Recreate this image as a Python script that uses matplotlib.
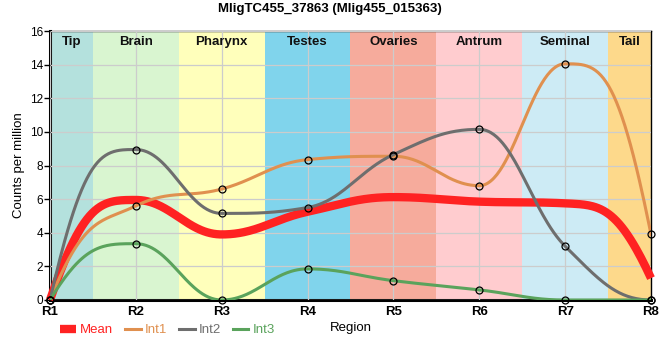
import numpy as np
import matplotlib
matplotlib.use('Agg')
import matplotlib.pyplot as plt

plt.rcParams['font.family'] = ['Liberation Sans', 'DejaVu Sans']

# data
regions = ['R1', 'R2', 'R3', 'R4', 'R5', 'R6', 'R7', 'R8']
int1 = [0, 5.6, 6.6, 8.35, 8.55, 6.8, 14.05, 3.9]
int2 = [0, 8.95, 5.15, 5.5, 8.65, 10.15, 3.2, 0]
int3 = [0, 3.35, 0, 1.85, 1.15, 0.6, 0, 0]
mean = [0, 5.95, 3.9, 5.25, 6.12, 5.85, 5.75, 1.3]

tissues = ['Tip', 'Brain', 'Pharynx', 'Testes', 'Ovaries', 'Antrum', 'Seminal', 'Tail']
tissue_spans = [(0, 0.5), (0.5, 1.5), (1.5, 2.5), (2.5, 3.5), (3.5, 4.5),
                (4.5, 5.5), (5.5, 6.5), (6.5, 7)]
tissue_colors = ['#b4e1dd', '#d9f5d0', '#ffffbb', '#80d4ec', '#f6ab9c',
                 '#ffcccf', '#cdebf5', '#fdd98b']


def end_weight(d0, d1):
    # how hard the curve leaves / enters an end point
    if d0 == 0:
        return 0.0
    return float(np.clip(0.5 * (2 * d0 - d1) / d0, 0, 1))


def spline(xs, ys, n=60):
    """bezier spline, control points like a highcharts 'spline' series"""
    xs = np.asarray(xs, float)
    ys = np.asarray(ys, float)
    k = len(xs)
    lx, ly = xs.copy(), ys.copy()
    rx, ry = xs.copy(), ys.copy()
    sm = 1.5
    d = sm + 1
    for i in range(1, k - 1):
        px, py = xs[i], ys[i]
        lax, lay = xs[i - 1], ys[i - 1]
        nx, ny = xs[i + 1], ys[i + 1]
        lcx = (sm * px + lax) / d
        lcy = (sm * py + lay) / d
        rcx = (sm * px + nx) / d
        rcy = (sm * py + ny) / d
        corr = (rcy - lcy) * (rcx - px) / (rcx - lcx) + py - rcy
        lcy += corr
        rcy += corr
        if lcy > lay and lcy > py:
            lcy = max(lay, py)
            rcy = 2 * py - lcy
        elif lcy < lay and lcy < py:
            lcy = min(lay, py)
            rcy = 2 * py - lcy
        if rcy > ny and rcy > py:
            rcy = max(ny, py)
            lcy = 2 * py - rcy
        elif rcy < ny and rcy < py:
            rcy = min(ny, py)
            lcy = 2 * py - rcy
        lx[i], ly[i], rx[i], ry[i] = lcx, lcy, rcx, rcy
    # end points
    d0, d1 = ys[1] - ys[0], ys[2] - ys[1]
    rx[0] = xs[0] + (xs[1] - xs[0]) / d
    ry[0] = ys[0] + end_weight(d0, d1) * d0
    d0, d1 = ys[-1] - ys[-2], ys[-2] - ys[-3]
    lx[-1] = xs[-1] - (xs[-1] - xs[-2]) / d
    ly[-1] = ys[-1] - end_weight(d0, d1) * d0

    t = np.linspace(0, 1, n)[:, None]
    out = []
    for i in range(k - 1):
        p0 = np.array([xs[i], ys[i]])
        p1 = np.array([rx[i], ry[i]])
        p2 = np.array([lx[i + 1], ly[i + 1]])
        p3 = np.array([xs[i + 1], ys[i + 1]])
        seg = ((1 - t) ** 3) * p0 + 3 * ((1 - t) ** 2) * t * p1 + 3 * (1 - t) * t ** 2 * p2 + t ** 3 * p3
        out.append(seg if i == 0 else seg[1:])
    out = np.vstack(out)
    return out[:, 0], out[:, 1]


fig = plt.figure(figsize=(6.6, 3.6), dpi=100)
ax = fig.add_axes([50 / 660, 1 - 300 / 360, 601 / 660, 269 / 360])

x = np.arange(len(regions))
for (a, b), c, name in zip(tissue_spans, tissue_colors, tissues):
    ax.axvspan(a, b, color=c, lw=0, zorder=0)
    ax.text((a + b) / 2, 15.35, name, ha='center', va='center',
            fontsize=9.5, fontweight='bold', color='#111111', zorder=5)

ax.set_xlim(0, 7)
ax.set_ylim(0, 16)
ax.set_xticks(x)
ax.set_xticklabels(regions, fontsize=9.5, fontweight='bold')
ax.set_yticks(np.arange(0, 17, 2))
ax.tick_params(axis='y', labelsize=8.5, length=4, width=1, pad=1)
ax.tick_params(axis='x', length=0, pad=4)
ax.grid(True, color='#cccccc', lw=0.9, zorder=1)
ax.set_axisbelow(False)

series = [('Int1', int1, '#e0904f'), ('Int2', int2, '#6e6e6e'), ('Int3', int3, '#5aa35c')]
handles = []
mx, my = spline(x, mean)
h, = ax.plot(mx, my, color='#ff2222', lw=6, solid_capstyle='butt', zorder=3, label='Mean', clip_on=False)
handles.append(h)
for name, vals, col in series:
    sx, sy = spline(x, vals)
    h, = ax.plot(sx, sy, color=col, lw=2.2, zorder=4, label=name)
    ax.plot(x, vals, ls='none', marker='o', ms=5, mfc='none', mec='black',
            mew=0.9, zorder=6, clip_on=False)
    handles.append(h)

for side in ['left', 'bottom']:
    ax.spines[side].set_linewidth(2.2)
for side in ['top', 'right']:
    ax.spines[side].set_linewidth(1)

ax.set_ylabel('Counts per million', fontsize=9.5)
ax.yaxis.set_label_coords(-0.042, 0.5)
ax.set_xlabel('Region', fontsize=9.5)
ax.xaxis.set_label_coords(0.5, -0.083)

leg = fig.legend(handles=handles, loc='center left', ncol=4, frameon=False,
                 bbox_to_anchor=(48 / 660, 1 - 330 / 360), fontsize=9.5,
                 handlelength=1.2, handletextpad=0.3, columnspacing=0.9)
for txt, hh in zip(leg.get_texts(), handles):
    txt.set_color(hh.get_color())

fig.suptitle('MligTC455_37863 (Mlig455_015363)', fontsize=9.5, fontweight='bold', y=1 - 9 / 360, va='center')

fig.savefig('out.png', dpi=100)
